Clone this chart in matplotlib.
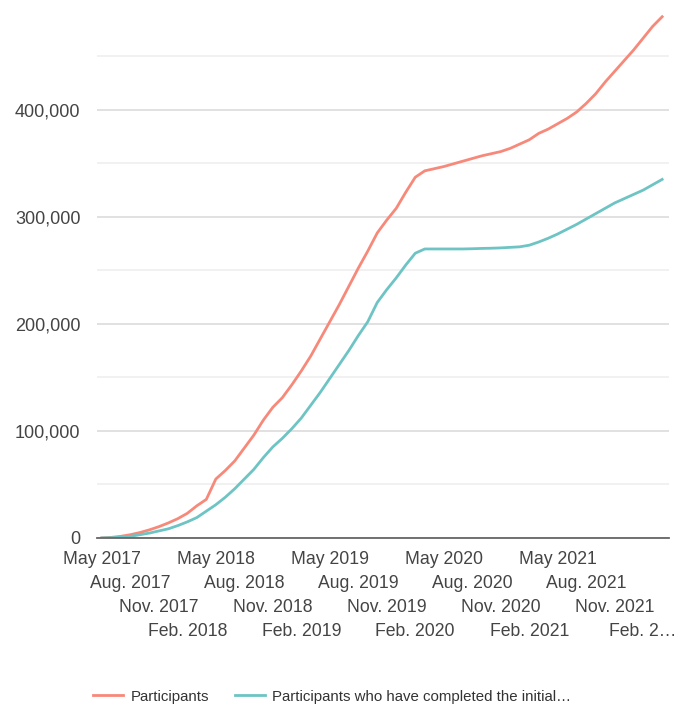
import numpy as np
import matplotlib.pyplot as plt
import matplotlib.transforms as mtransforms
from matplotlib.ticker import FuncFormatter

# Monthly cumulative counts, May 2017 .. Apr. 2022
months = [f"{m} {y}" for y in range(2017, 2023)
          for m in ["Jan.", "Feb.", "Mar.", "Apr.", "May", "Jun.",
                    "Jul.", "Aug.", "Sep.", "Oct.", "Nov.", "Dec."]][4:64]

participants = [0, 500, 1500, 3000, 5000, 7500, 10500, 14000, 18000, 23000,
                30000, 36000, 55000, 63000, 72000, 84000, 96000, 110000, 122000, 131000,
                143000, 156000, 170000, 186000, 202000, 218000, 235000, 252000, 268000, 285000,
                297000, 308000, 323000, 337000, 343000, 345000, 347000, 349500, 352000, 354500,
                357000, 359000, 361000, 364000, 368000, 372000, 378000, 382000, 387000, 392000,
                398000, 406000, 415000, 426000, 436000, 446000, 456000, 467000, 478000, 487000]

completed = [0, 200, 700, 1500, 3000, 4500, 6500, 8500, 11500, 15000,
             19000, 25000, 31000, 38000, 46000, 55000, 64000, 75000, 85000, 93000,
             102000, 112000, 124000, 136000, 149000, 162000, 175000, 189000, 202000, 220000,
             232000, 243000, 255000, 266000, 270000, 270000, 270000, 270000, 270000, 270200,
             270500, 270700, 271000, 271500, 272000, 273500, 276500, 280000, 284000, 288500,
             293000, 298000, 303000, 308000, 313000, 317000, 321000, 325000, 330000, 335000]

series_names = ["Participants", "Participants who have completed the initial\u2026"]
colors = ["#f7897a", "#6ec4c4"]

# quarterly tick labels, last one cut off like the original
tick_idx = list(range(0, 60, 3))
tick_labels = [months[i] for i in tick_idx]
tick_labels[-1] = "Feb. 2\u2026"

plt.rcParams['font.family'] = ['Liberation Sans', 'DejaVu Sans']

fig = plt.figure(figsize=(6.79, 7.05), dpi=100)
ax = fig.add_axes([0.143, 0.237, 0.842, 0.759])

x = np.arange(len(months))
ax.plot(x, participants, color=colors[0], lw=2, label=series_names[0], solid_joinstyle='round')
ax.plot(x, completed, color=colors[1], lw=2, label=series_names[1], solid_joinstyle='round')

ax.set_xlim(-0.5, 59.7)
ax.set_ylim(0, 500000)

ax.set_yticks([0, 100000, 200000, 300000, 400000])
ax.set_yticks([50000, 150000, 250000, 350000, 450000], minor=True)
ax.yaxis.set_major_formatter(FuncFormatter(lambda v, p: f"{int(v):,}"))
ax.grid(axis='y', which='major', color='#dcdcdc', lw=1.2)
ax.grid(axis='y', which='minor', color='#efefef', lw=1.2)
ax.set_axisbelow(True)
ax.tick_params(axis='y', which='both', length=0, pad=12, labelsize=13, labelcolor='#444444')

# staggered x labels in four rows (drawn as texts under the axis)
ax.set_xticks(tick_idx)
ax.set_xticklabels([])
ax.tick_params(axis='x', length=0)
base = ax.get_xaxis_transform()
for k, (i, t) in enumerate(zip(tick_idx, tick_labels)):
    row = k % 4
    tr = mtransforms.offset_copy(base, fig=fig, x=0, y=-(22 + 24 * row) * 0.72, units='points')
    ax.text(i, 0, t, transform=tr, ha='center', va='center', fontsize=12.7,
            color='#444444', clip_on=False)

for s in ['top', 'right', 'left']:
    ax.spines[s].set_visible(False)
ax.spines['bottom'].set_color('#666666')
ax.spines['bottom'].set_linewidth(1.3)

fig.legend(loc='center', bbox_to_anchor=(0.489, 0.012), ncol=2, frameon=False,
           fontsize=10.8, handlelength=2.0, handletextpad=0.5, columnspacing=1.7,
           labelcolor='#333333')

plt.savefig('out.png', dpi=100)
